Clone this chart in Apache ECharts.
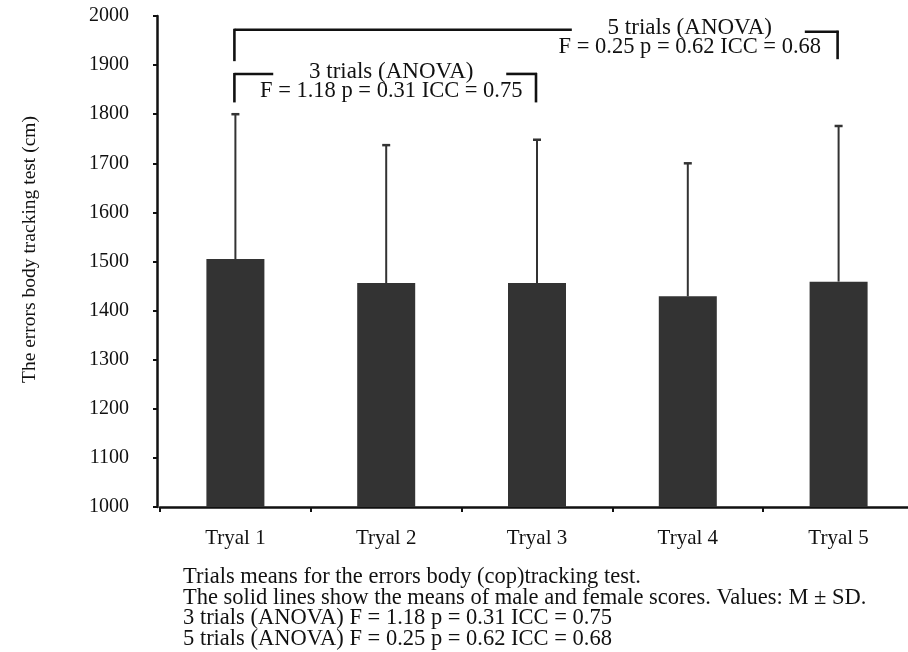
<!DOCTYPE html>
<html>
<head>
<meta charset="utf-8">
<script src="https://cdn.jsdelivr.net/npm/echarts@6/dist/echarts.min.js"></script>
<style>
html,body{margin:0;padding:0;background:#fff;overflow:hidden;}
#chart{width:916px;height:652px;}
</style>
</head>
<body>
<div id="chart"></div>
<script>
// ---- data ----
const categories = ['Tryal 1', 'Tryal 2', 'Tryal 3', 'Tryal 4', 'Tryal 5'];
const means = [1505, 1456, 1456, 1429, 1459];
const sds = [295, 281, 292, 271, 317];
const yMin = 1000, yMax = 2000, yStep = 100;
const yAxisTitle = 'The errors body tracking test (cm)';
const comparisonTitles = ['3 trials (ANOVA)', '5 trials (ANOVA)'];
const comparisonStats = ['F = 1.18 p = 0.31 ICC = 0.75', 'F = 0.25 p = 0.62 ICC = 0.68'];
const comparisonFrom = [0, 0];
const comparisonTo = [2, 4];
const captionLines = [
  'Trials means for the errors body (cop)tracking test.',
  'The solid lines show the means of male and female scores. Values: M \u00b1 SD.',
  '3 trials (ANOVA) F = 1.18 p = 0.31 ICC = 0.75',
  '5 trials (ANOVA) F = 0.25 p = 0.62 ICC = 0.68'
];

// ---- layout / style (not data) ----
const FONT = '"Liberation Serif", "Times New Roman", serif';
const INK = '#111';
const BAR = '#333333';
const bracketLayout = [
  { topVal: 1882, bottomVal: 1824, rightTopVal: 1882, rightBottomVal: 1824, textFrac: 0.52 },
  { topVal: 1972, bottomVal: 1908, rightTopVal: 1968, rightBottomVal: 1912, textFrac: 0.755 }
];

const errorData = categories.map((c, i) => [i, means[i], means[i] + sds[i]]);
const bracketData = comparisonFrom.map((f, i) => [f, comparisonTo[i], i]);

const chart = echarts.init(document.getElementById('chart'), null, { renderer: 'canvas' });

const option = {
  backgroundColor: '#fff',
  animation: false,
  textStyle: { fontFamily: FONT },
  grid: { left: 160, right: 2, top: 16, bottom: 145, containLabel: false },
  xAxis: {
    type: 'category',
    data: categories,
    axisLine: { show: true, lineStyle: { color: INK, width: 2.5 } },
    axisTick: { show: true, alignWithLabel: false, length: 5, lineStyle: { color: INK, width: 2 } },
    axisLabel: { color: INK, fontFamily: FONT, fontSize: 21, margin: 21 },
    splitLine: { show: false }
  },
  yAxis: {
    type: 'value',
    min: yMin, max: yMax, interval: yStep,
    offset: 3,
    name: yAxisTitle,
    nameLocation: 'middle',
    nameRotate: 90,
    nameGap: 117,
    nameTextStyle: { color: INK, fontFamily: FONT, fontSize: 19.5, padding: [0, 0, 0, 24] },
    axisLine: { show: true, lineStyle: { color: INK, width: 2.5 } },
    axisTick: { show: true, inside: false, length: 4, lineStyle: { color: INK, width: 2 } },
    axisLabel: { color: INK, fontFamily: FONT, fontSize: 20, margin: 28, formatter: function (v) { return String(v); } },
    splitLine: { show: false }
  },
  series: [
    {
      type: 'bar',
      data: means,
      barWidth: 58,
      itemStyle: { color: BAR },
      z: 2
    },
    {
      type: 'custom',
      data: errorData,
      z: 3,
      renderItem: function (params, api) {
        const x = api.value(0);
        const p0 = api.coord([x, api.value(1)]);
        const p1 = api.coord([x, api.value(2)]);
        return {
          type: 'group',
          children: [
            { type: 'line', shape: { x1: p0[0], y1: p0[1], x2: p1[0], y2: p1[1] }, style: { stroke: BAR, lineWidth: 2 } },
            { type: 'line', shape: { x1: p1[0] - 4, y1: p1[1], x2: p1[0] + 4, y2: p1[1] }, style: { stroke: BAR, lineWidth: 2.5 } }
          ]
        };
      }
    },
    {
      type: 'custom',
      data: bracketData,
      z: 4,
      clip: false,
      renderItem: function (params, api) {
        const i = api.value(2);
        const L = bracketLayout[i];
        const a = api.coord([api.value(0), L.topVal]);
        const aB = api.coord([api.value(0), L.bottomVal]);
        const b = api.coord([api.value(1), L.rightTopVal]);
        const bB = api.coord([api.value(1), L.rightBottomVal]);
        const xl = a[0] - 1, xr = b[0] - 1;
        const cx = xl + L.textFrac * (xr - xl);
        const st = { stroke: INK, lineWidth: 2.6 };
        return {
          type: 'group',
          children: [
            { type: 'line', shape: { x1: xl, y1: aB[1], x2: xl, y2: a[1] - 1 }, style: st },
            { type: 'line', shape: { x1: xl, y1: a[1], x2: cx - 118, y2: a[1] }, style: st },
            { type: 'line', shape: { x1: cx + 115, y1: b[1], x2: xr + 1, y2: b[1] }, style: st },
            { type: 'line', shape: { x1: xr, y1: b[1] - 1, x2: xr, y2: bB[1] }, style: st },
            { type: 'text', style: { text: comparisonTitles[i], x: cx, y: a[1] - 2, align: 'center', verticalAlign: 'middle', font: '23px ' + FONT, fill: INK } },
            { type: 'text', style: { text: comparisonStats[i], x: cx, y: a[1] + 17, align: 'center', verticalAlign: 'middle', font: '22.5px ' + FONT, fill: INK } }
          ]
        };
      }
    }
  ],
  graphic: captionLines.map((t, k) => ({
    type: 'text',
    left: 183,
    top: 566 + k * 20.5,
    style: { text: t, font: '22.5px ' + FONT, fill: INK }
  }))
};

chart.setOption(option);
</script>
</body>
</html>
